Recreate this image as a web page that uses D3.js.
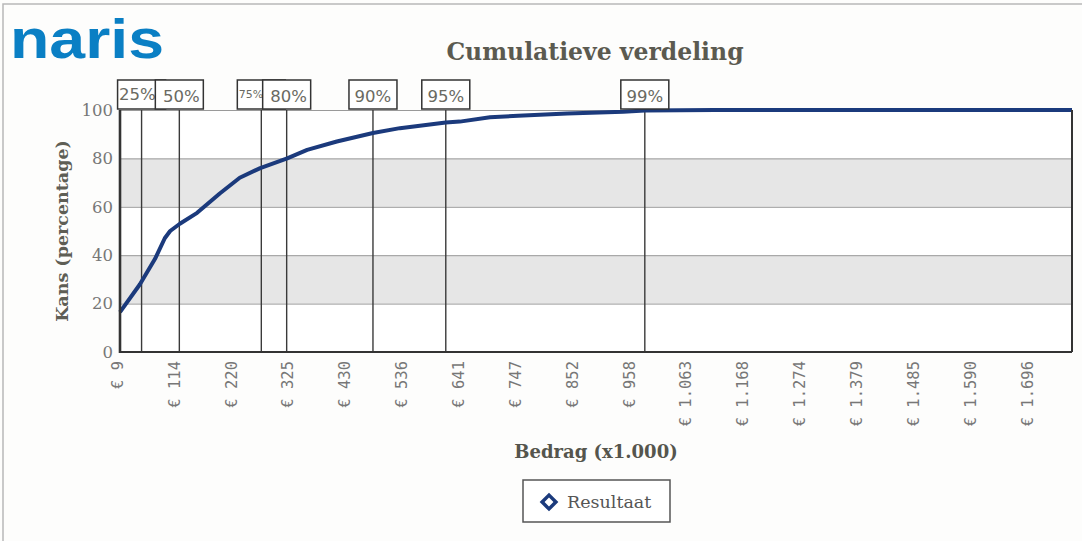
<!DOCTYPE html>
<html>
<head>
<meta charset="utf-8">
<script src="https://cdn.jsdelivr.net/npm/d3@7"></script>
<style>
  html, body { margin: 0; padding: 0; background: #fdfdfc; }
  svg { display: block; }
</style>
</head>
<body>
<svg id="chart" width="1082" height="541"></svg>
<script>
// ---- data ----
const xTickValues = [9, 114, 220, 325, 430, 536, 641, 747, 852, 958, 1063, 1168, 1274, 1379, 1485, 1590, 1696];
const xTickLabels = ["€ 9", "€ 114", "€ 220", "€ 325", "€ 430", "€ 536", "€ 641", "€ 747", "€ 852", "€ 958",
                     "€ 1.063", "€ 1.168", "€ 1.274", "€ 1.379", "€ 1.485", "€ 1.590", "€ 1.696"];
const yTickValues = [0, 20, 40, 60, 80, 100];
const amounts = [9, 46, 74, 92, 102, 120, 152, 194, 231, 269, 319, 356, 411, 478, 528, 613, 639, 695, 747, 838, 942, 982, 1112, 1774];
const cumPct  = [16.5, 28, 38.5, 47, 50, 53, 57.5, 65.5, 72, 76, 80, 83.5, 87, 90.5, 92.5, 94.8, 95.2, 97, 97.6, 98.6, 99.3, 99.8, 100, 100];
const percentileLabels = ["25%", "50%", "75%", "80%", "90%", "95%", "99%"];
const percentileAmounts = [49, 119, 271, 318, 478, 613, 982];
const bands = [[20, 40], [60, 80]];
const xDomain = [9, 1774];

// ---- layout ----
const svg = d3.select("#chart");
const L = 120, R = 1072, T = 110, B = 352;
const x = d3.scaleLinear().domain(xDomain).range([L, R]);
const y = d3.scaleLinear().domain([0, 100]).range([B, T]);
const navy = "#1b3a7c";
const serif = "'DejaVu Serif', serif";

// scan frame
svg.append("rect").attr("x", 3).attr("y", 4).attr("width", 1090).attr("height", 560)
  .attr("fill", "none").attr("stroke", "#b8b8b8").attr("stroke-width", 1.5);

// logo
svg.append("text").attr("x", 10).attr("y", 58)
  .attr("font-family", "'Liberation Sans', Arial, sans-serif").attr("font-weight", "bold")
  .attr("font-size", 56).attr("fill", "#0a7fc4")
  .attr("textLength", 154).attr("lengthAdjust", "spacingAndGlyphs")
  .text("naris");

// title
svg.append("text").attr("x", 595).attr("y", 60).attr("text-anchor", "middle")
  .attr("font-family", serif).attr("font-weight", "bold").attr("font-size", 23.5)
  .attr("fill", "#5b5a50").text("Cumulatieve verdeling");

// plot background + bands
svg.append("rect").attr("x", L).attr("y", T).attr("width", R - L).attr("height", B - T).attr("fill", "#ffffff");
svg.append("g").selectAll("rect").data(bands).join("rect")
  .attr("x", L).attr("width", R - L)
  .attr("y", d => y(d[1])).attr("height", d => y(d[0]) - y(d[1]))
  .attr("fill", "#e6e6e6");

// horizontal gridlines
svg.append("g").call(d3.axisLeft(y).tickValues(yTickValues).tickSize(-(R - L)).tickFormat(""))
  .attr("transform", `translate(${L},0)`)
  .call(g => g.select(".domain").remove())
  .call(g => g.selectAll("line").attr("stroke", "#9a9a9a").attr("stroke-width", 1));

// percentile vertical lines
svg.append("g").selectAll("line").data(percentileAmounts).join("line")
  .attr("x1", d => x(d)).attr("x2", d => x(d))
  .attr("y1", T).attr("y2", B)
  .attr("stroke", "#3a3a3a").attr("stroke-width", 1.4);

// curve
const line = d3.line().x(d => x(d[0])).y(d => y(d[1]));
svg.append("path").datum(d3.zip(amounts, cumPct))
  .attr("d", line).attr("fill", "none")
  .attr("stroke", navy).attr("stroke-width", 4).attr("stroke-linejoin", "round");

// axes frame
svg.append("line").attr("x1", L).attr("x2", L).attr("y1", T).attr("y2", B + 1)
  .attr("stroke", "#333").attr("stroke-width", 2.6);
svg.append("line").attr("x1", L).attr("x2", R).attr("y1", B).attr("y2", B)
  .attr("stroke", "#333").attr("stroke-width", 2.2);
svg.append("line").attr("x1", R).attr("x2", R).attr("y1", T).attr("y2", B)
  .attr("stroke", "#333").attr("stroke-width", 2);

// percentile label boxes (later boxes cover earlier ones, as in the original)
const boxW = 48, boxH = 29, labelSize = 16.5;
const pdata = d3.zip(percentileAmounts, percentileLabels).map((d, i, arr) => {
  const cx = x(d[0]);
  const left = cx - boxW / 2;
  const next = arr[i + 1];
  const right = next ? Math.min(cx + boxW / 2, x(next[0]) - boxW / 2) : cx + boxW / 2;
  const prev = arr[i - 1];
  const squeezedBefore = prev ? (x(prev[0]) + boxW / 2 > left) : false;
  return { v: d[0], label: d[1], cx, left, visW: right - left, squeezedBefore };
});
const boxMid = T - 1 - boxH / 2;
const pg = svg.append("g").selectAll("g").data(pdata).join("g");
pg.append("rect").attr("x", d => d.left).attr("y", T - 1 - boxH)
  .attr("width", boxW).attr("height", boxH)
  .attr("fill", "#ffffff").attr("stroke", "#333").attr("stroke-width", 1.5);
pg.append("text")
  .attr("font-family", "'DejaVu Sans', sans-serif").attr("font-size", labelSize).attr("fill", "#6a6a62")
  .attr("y", T - 8).attr("text-anchor", "middle")
  .text(d => d.label)
  .each(function (d) {
    const w = this.getComputedTextLength();
    const sel = d3.select(this);
    if (w > d.visW - 3) {
      // box partly hidden by the next one: shrink the label to fit its visible part
      const fs = labelSize * (d.visW - 1) / w;
      sel.attr("font-size", fs).attr("x", d.left + (d.visW - 1) / 2 + 1.5)
         .attr("y", boxMid + fs * 0.36);
    } else {
      sel.attr("x", Math.min(d.cx + (d.squeezedBefore ? 2 : 0), d.left + d.visW - w / 2 - 1));
    }
  });

// y axis labels
svg.append("g").attr("transform", `translate(${L},0)`)
  .call(d3.axisLeft(y).tickValues(yTickValues).tickSize(0).tickPadding(7))
  .call(g => g.select(".domain").remove())
  .call(g => g.selectAll("text").attr("font-family", serif).attr("font-size", 16.5).attr("fill", "#777"));

// x axis labels
const xLabelMap = new Map(d3.zip(xTickValues, xTickLabels));
svg.append("g").attr("transform", `translate(0,${B})`)
  .call(d3.axisBottom(x).tickValues(xTickValues).tickSize(0).tickFormat(d => xLabelMap.get(d)))
  .call(g => g.select(".domain").remove())
  .call(g => g.selectAll("text")
    .attr("font-family", "'DejaVu Sans Mono', monospace").attr("font-size", 15.5).attr("fill", "#777")
    .attr("text-anchor", "end").attr("dy", "0.35em")
    .attr("transform", "translate(-3,0) rotate(-90)")
    .attr("x", -9).attr("y", 0));

// axis titles
svg.append("text").attr("transform", `translate(68,231) rotate(-90)`).attr("text-anchor", "middle")
  .attr("font-family", serif).attr("font-weight", "bold").attr("font-size", 17.5).attr("fill", "#5e5e55")
  .text("Kans (percentage)");
svg.append("text").attr("x", 596).attr("y", 458).attr("text-anchor", "middle")
  .attr("font-family", serif).attr("font-weight", "bold").attr("font-size", 18).attr("fill", "#55554d")
  .text("Bedrag (x1.000)");

// legend
const lg = svg.append("g").attr("transform", "translate(523,480)");
lg.append("rect").attr("width", 147).attr("height", 42).attr("fill", "#fff")
  .attr("stroke", "#555").attr("stroke-width", 1.5);
lg.append("path").attr("d", d3.symbol(d3.symbolSquare, 95)())
  .attr("transform", "translate(26,22) rotate(45)")
  .attr("fill", "#fff").attr("stroke", navy).attr("stroke-width", 3.5);
lg.append("text").attr("x", 44).attr("y", 28)
  .attr("font-family", serif).attr("font-size", 17.5).attr("fill", "#555").text("Resultaat");
</script>
</body>
</html>
